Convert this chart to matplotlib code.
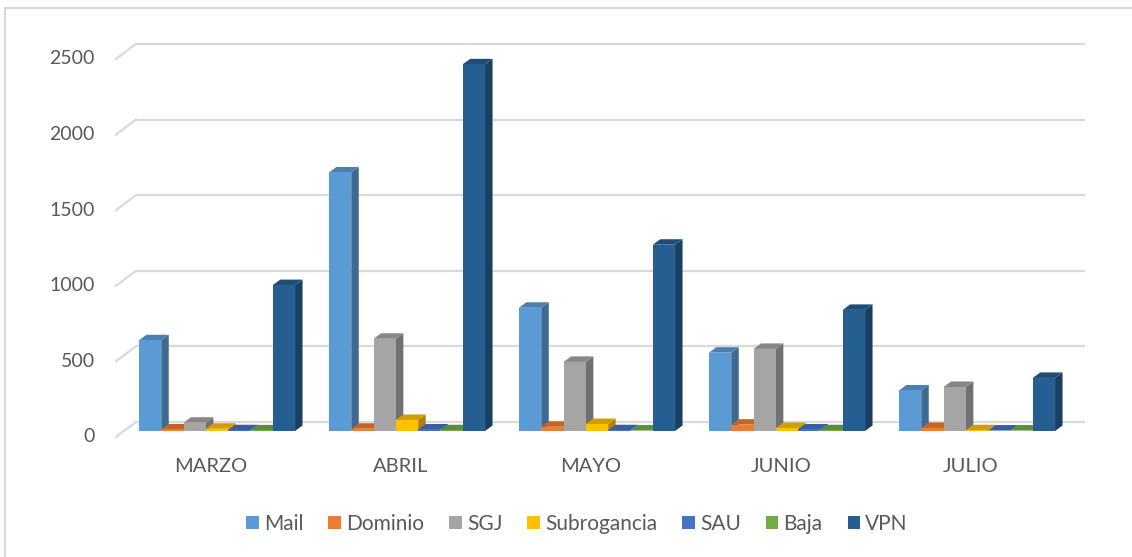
import matplotlib.pyplot as plt
from matplotlib.patches import Polygon, Patch, Rectangle
from matplotlib.colors import to_rgb

months = ["MARZO", "ABRIL", "MAYO", "JUNIO", "JULIO"]
series = ["Mail", "Dominio", "SGJ", "Subrogancia", "SAU", "Baja", "VPN"]
mail = [600, 1710, 815, 518, 268]
dominio = [10, 15, 28, 42, 20]
sgj = [55, 610, 457, 543, 291]
subrogancia = [15, 73, 46, 20, 5]
sau = [5, 10, 5, 10, 3]
baja = [4, 5, 3, 5, 3]
vpn = [965, 2425, 1232, 801, 351]
yticks = [0, 500, 1000, 1500, 2000, 2500]

values = [mail, dominio, sgj, subrogancia, sau, baja, vpn]
colors = ["#5B9BD5", "#ED7D31", "#A5A5A5", "#FFC000", "#4472C4", "#70AD47", "#255E91"]
txt = "#595959"

plt.rcParams["font.family"] = ["Lato", "DejaVu Sans"]

W, H = 1132, 557
fig = plt.figure(figsize=(W / 100, H / 100), dpi=100)

# axes laid out in pixels so the fake depth offsets can be given in px
px_x0, px_x1, px_top, px_bot = 60, 1110, 20, 480
cx0, sx = 217, 190.0       # px of first category, px per category
cy0, sy = 431, 0.1512      # px of value 0 (bar plane), px per unit
ax = fig.add_axes([px_x0 / W, 1 - px_bot / H, (px_x1 - px_x0) / W, (px_bot - px_top) / H])
ax.set_xlim((px_x0 - cx0) / sx, (px_x1 - cx0) / sx)
ax.set_ylim((cy0 - px_bot) / sy, (cy0 - px_top) / sy)
ax.axis("off")

def dx(p):
    return p / sx

def dy(p):
    return p / sy

# back wall gridlines and left floor diagonals
xl, xr = -0.49, 4.505
for v in yticks:
    ax.plot([xl + dx(12), xr + dx(12)], [v + dy(9), v + dy(9)],
            color="#D9D9D9", lw=1.6, solid_capstyle="butt", zorder=1)
    ax.plot([xl - dx(8), xl + dx(12)], [v - dy(6), v + dy(9)],
            color="#D9D9D9", lw=1.6, zorder=1)
    ax.text(xl - dx(29), v - dy(6), str(v), ha="right", va="center",
            fontsize=14, color=txt)

bw = 22.3 / sx
ddx, ddy = dx(7.5), dy(5.5)

def shade(c, f):
    r, g, b = to_rgb(c)
    return (r * f, g * f, b * f)

z = 2
for i in range(len(months)):
    for j, vals in enumerate(values):
        v = vals[i]
        x = i - 3.5 * bw + j * bw
        col = colors[j]
        side = Polygon([(x + bw, 0), (x + bw + ddx, ddy), (x + bw + ddx, v + ddy), (x + bw, v)],
                       closed=True, facecolor=shade(col, 0.68), edgecolor="none", zorder=z)
        top = Polygon([(x, v), (x + ddx, v + ddy), (x + bw + ddx, v + ddy), (x + bw, v)],
                      closed=True, facecolor=shade(col, 0.82), edgecolor="none", zorder=z)
        ax.add_patch(side)
        ax.add_patch(top)
        ax.bar(x, v, width=bw, align="edge", color=col, edgecolor="none", zorder=z + 0.5)
        z += 1
    ax.text(i - dx(6), dy(-36), months[i], ha="center", va="center", fontsize=14.5, color=txt)

# outer chart frame
fig.patches.append(Rectangle((5 / W, -0.1), 1.2, 1 - 8 / H + 0.1, transform=fig.transFigure,
                             fill=False, edgecolor="#D9D9D9", lw=1.5))

handles = [Patch(facecolor=c, edgecolor="none", label=s) for s, c in zip(series, colors)]
leg = fig.legend(handles=handles, loc="center", bbox_to_anchor=(577 / W, 1 - 524 / H), ncol=7,
                 frameon=False, fontsize=15, handlelength=0.6, handleheight=0.6,
                 handletextpad=0.25, columnspacing=1.2)
for t in leg.get_texts():
    t.set_color(txt)

fig.savefig("out.png", dpi=100, facecolor="white")
